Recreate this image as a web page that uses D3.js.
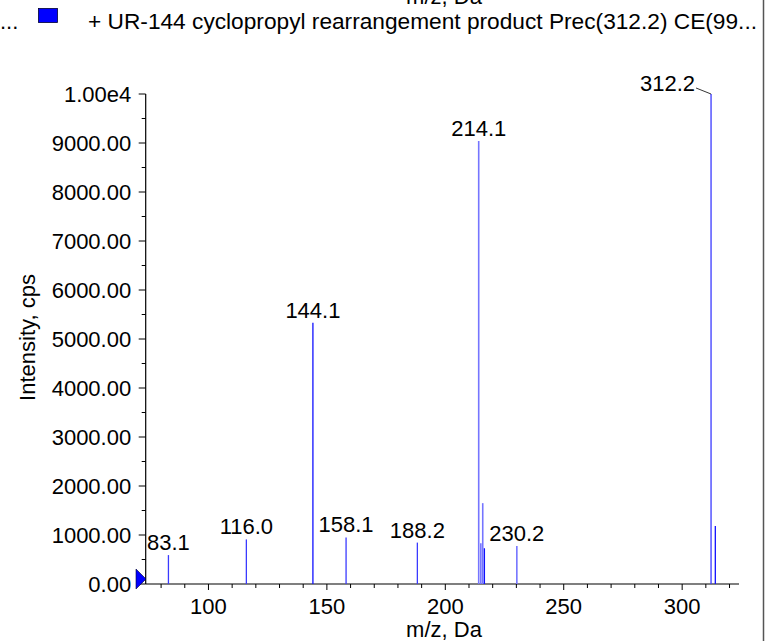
<!DOCTYPE html>
<html>
<head>
<meta charset="utf-8">
<script src="https://cdn.jsdelivr.net/npm/d3@7"></script>
<style>
  html, body { margin: 0; padding: 0; background: #fff; }
  svg { display: block; font-family: "Liberation Sans", Arial, sans-serif; }
</style>
</head>
<body>
<svg id="chart" width="765" height="641"></svg>
<script>
// ---- data ----
const peakMz        = [83.1, 116.0, 144.1, 158.1, 188.2, 214.1, 215.0, 215.8, 216.5, 230.2, 312.2, 314.0];
const peakIntensity = [590, 910, 5330, 950, 845, 9040, 830, 1650, 730, 775, 10000, 1185];
const peakLabels    = ["83.1", "116.0", "144.1", "158.1", "188.2", "214.1", "", "", "", "230.2", "312.2", ""];
const xTicks = [100, 150, 200, 250, 300];
const yTicks = [0, 1000, 2000, 3000, 4000, 5000, 6000, 7000, 8000, 9000, 10000];
const xDomain = [73.5, 324];
const yDomain = [0, 10000];
const legendText = "+ UR-144 cyclopropyl rearrangement product Prec(312.2) CE(99...";
const xTitle = "m/z, Da";
const yTitle = "Intensity, cps";

// ---- styles (not data) ----
const lightPeaks = new Set([214.1, 215.0, 215.8, 230.2]);
const darkPeaks = new Set([144.1, 216.5, 314.0]);
const FS = 22;

const svg = d3.select("#chart");
const x = d3.scaleLinear().domain(xDomain).range([145.7, 739]);
const y = d3.scaleLinear().domain(yDomain).range([584, 94]);

// frame line at right
svg.append("line").attr("x1", 763.5).attr("x2", 763.5).attr("y1", 0).attr("y2", 641)
  .attr("stroke", "#555").attr("stroke-width", 1.5);

// cut-off title of previous panel at top
svg.append("text").attr("x", 444).attr("y", 4).attr("text-anchor", "middle")
  .attr("font-size", FS).attr("fill", "#000").text(xTitle);

// legend
svg.append("text").attr("x", 0).attr("y", 29).attr("font-size", FS).attr("fill", "#000").text("...");
svg.append("rect").attr("x", 38.5).attr("y", 8.5).attr("width", 19).attr("height", 14)
  .attr("fill", "#0000ff").attr("stroke", "#000033").attr("stroke-width", 0.8);
svg.append("text").attr("x", 88).attr("y", 29).attr("font-size", FS).attr("fill", "#000")
  .attr("textLength", 669).attr("lengthAdjust", "spacingAndGlyphs").text(legendText);

// y axis
const yAxis = svg.append("g").attr("transform", "translate(145.7,0)");
yAxis.append("line").attr("x1", 0).attr("x2", 0).attr("y1", y(10000)).attr("y2", y(0))
  .attr("stroke", "#000").attr("stroke-width", 1.2);
const yMinor = d3.range(500, 10000, 1000);
yAxis.selectAll("line.minor").data(yMinor).join("line").attr("class", "minor")
  .attr("x1", -4).attr("x2", 0).attr("y1", d => y(d)).attr("y2", d => y(d))
  .attr("stroke", "#000").attr("stroke-width", 1);
yAxis.selectAll("line.major").data(yTicks).join("line").attr("class", "major")
  .attr("x1", -7).attr("x2", 0).attr("y1", d => y(d)).attr("y2", d => y(d))
  .attr("stroke", "#000").attr("stroke-width", 1);
yAxis.selectAll("text").data(yTicks).join("text")
  .attr("x", -14.5).attr("y", d => y(d)).attr("dy", "0.36em")
  .attr("text-anchor", "end").attr("font-size", FS).attr("fill", "#000")
  .text(d => d === 10000 ? "1.00e4" : d.toFixed(2));

// x axis
const xAxis = svg.append("g").attr("transform", "translate(0,584)");
xAxis.append("line").attr("x1", x(xDomain[0])).attr("x2", x(xDomain[1])).attr("y1", 0).attr("y2", 0)
  .attr("stroke", "#000").attr("stroke-width", 1.2);
const xMinor = d3.range(80, 330, 10).filter(v => v % 50 !== 0);
xAxis.selectAll("line.minor").data(xMinor).join("line").attr("class", "minor")
  .attr("x1", d => x(d)).attr("x2", d => x(d)).attr("y1", 0).attr("y2", 4)
  .attr("stroke", "#000").attr("stroke-width", 1);
xAxis.selectAll("line.major").data(xTicks).join("line").attr("class", "major")
  .attr("x1", d => x(d)).attr("x2", d => x(d)).attr("y1", 0).attr("y2", 6)
  .attr("stroke", "#000").attr("stroke-width", 1);
xAxis.selectAll("text").data(xTicks).join("text")
  .attr("x", d => x(d)).attr("y", 29.5).attr("text-anchor", "middle")
  .attr("font-size", FS).attr("fill", "#000").text(d => d);

// axis titles
svg.append("text").attr("x", 444).attr("y", 637).attr("text-anchor", "middle")
  .attr("font-size", FS).attr("fill", "#000").text(xTitle);
svg.append("text").attr("transform", "translate(35,337.5) rotate(-90)")
  .attr("text-anchor", "middle").attr("font-size", FS).attr("fill", "#000").text(yTitle);

// peaks
const peaks = peakMz.map((m, i) => ({ m, v: peakIntensity[i], label: peakLabels[i] }));
svg.append("g").selectAll("line").data(peaks).join("line")
  .attr("x1", d => x(d.m)).attr("x2", d => x(d.m))
  .attr("y1", y(0)).attr("y2", d => y(d.v))
  .attr("stroke", d => lightPeaks.has(d.m) ? "#7575ff" : darkPeaks.has(d.m) ? "#1010ff" : "#3a3aff")
  .attr("stroke-width", d => lightPeaks.has(d.m) ? 1.6 : 1.3);

// peak labels
const labeled = peaks.filter(d => d.label && d.m !== 312.2);
svg.append("g").selectAll("text").data(labeled).join("text")
  .attr("x", d => x(d.m)).attr("y", d => y(d.v) - 5)
  .attr("text-anchor", "middle").attr("font-size", FS).attr("fill", "#000")
  .text(d => d.label);
const basePeak = peaks.find(d => d.m === 312.2);
svg.append("text").attr("x", x(basePeak.m) - 16).attr("y", y(basePeak.v) - 3)
  .attr("text-anchor", "end").attr("font-size", FS).attr("fill", "#000").text(basePeak.label);
svg.append("line").attr("x1", x(basePeak.m) - 15).attr("y1", y(basePeak.v) - 6)
  .attr("x2", x(basePeak.m)).attr("y2", y(basePeak.v)).attr("stroke", "#000").attr("stroke-width", 0.8);

// zero marker triangle
svg.append("path")
  .attr("d", `M136,${y(0) - 15} L146,${y(0) - 5} L136,${y(0) + 5} Z`)
  .attr("fill", "#0000ff").attr("stroke", "#000033").attr("stroke-width", 0.6);
</script>
</body>
</html>
